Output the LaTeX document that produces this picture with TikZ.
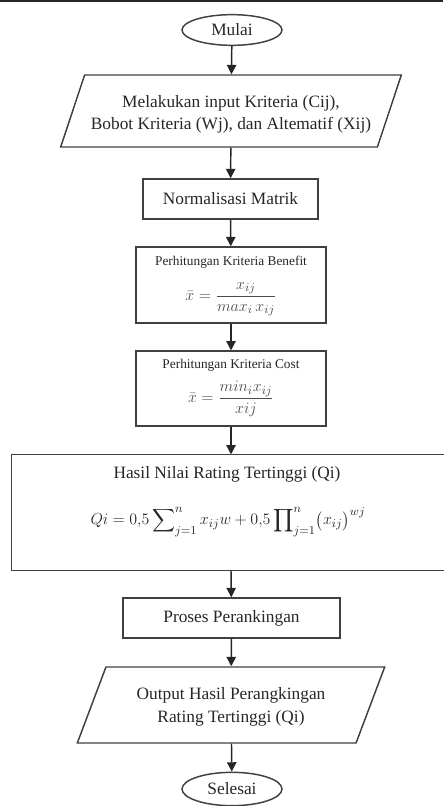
\documentclass[tikz,border=0pt]{standalone}
\usepackage{amsmath}
\usepackage{fontspec}
\setmainfont{Liberation Serif}
\usetikzlibrary{shapes.geometric,arrows.meta}

\begin{document}
\begin{tikzpicture}[x=0.75pt, y=-0.75pt,
    every node/.style={font=\fontsize{13}{17}\selectfont, text=black!85},
    terminal/.style={draw=black!75, line width=1.1pt, ellipse, minimum width=75pt, minimum height=23pt, inner sep=0pt},
    io/.style={draw=black!75, line width=1.1pt, trapezium, trapezium left angle=63, trapezium right angle=117, trapezium stretches=true, align=center, inner sep=0pt},
    process/.style={draw=black!75, line width=1.1pt, rectangle, align=center, inner sep=0pt},
    label/.style={inner sep=0pt},
    flow/.style={draw=black!85, line width=1.1pt, -{Triangle[length=7pt,width=7pt]}}]
    \useasboundingbox (0,0) rectangle (443,806);
    \draw[line width=1.5pt, black!85] (0,1) -- (443,1);

    \node[terminal] (mulai) at (232,30) {Mulai};
    \node[io, minimum width=256.5pt, minimum height=54pt] (input) at (231,111)
        {\rule{0pt}{14pt}Melakukan input Kriteria (Cij),\\ Bobot Kriteria (Wj), dan Altematif (Xij)};
    \node[process, minimum width=131pt, minimum height=30pt] (norm) at (230.5,199) {Normalisasi Matrik};
    \node[process, minimum width=142.5pt, minimum height=57pt] (benefit) at (231,285) {};
    \node[label, font=\fontsize{10}{12}\selectfont] (benefitt) at (231,262) {Perhitungan Kriteria Benefit};
    \node[label, text=black!70] (benefitf) at (231,299) {$\bar{x} = \dfrac{x_{ij}}{max_i\, x_{ij}}$};
    \node[process, minimum width=142.5pt, minimum height=56pt] (cost) at (231,388.5) {};
    \node[label, font=\fontsize{10}{12}\selectfont] (costt) at (231,365) {Perhitungan Kriteria Cost};
    \node[label, text=black!70] (costf) at (231,399) {$\bar{x} = \dfrac{min_i x_{ij}}{xij}$};
    % box runs out past the right edge of the page
    \node[process, draw=none, minimum width=360pt, minimum height=86pt] (hasil) at (252,512.5) {};
    \draw[draw=black!75, line width=1.1pt] (hasil.north east) -- (hasil.north west) -- (hasil.south west) -- (hasil.south east);
    \node[label] (hasilt) at (227,474) {Hasil Nilai Rating Tertinggi (Qi)};
    \node[label] (hasilf) at (228,522)
        {$\displaystyle Qi = 0{,}5\sum\nolimits_{j=1}^{n} x_{ij}w + 0{,}5\prod\nolimits_{j=1}^{n} \bigl(x_{ij}\bigr)^{wj}$};
    \node[process, minimum width=163pt, minimum height=30pt] (proses) at (231.5,618) {Proses Perankingan};
    \node[io, minimum width=231pt, minimum height=57pt] (output) at (231,705)
        {\rule{0pt}{12pt}Output Hasil Perangkingan\\ Rating Tertinggi (Qi)};
    \node[terminal, minimum height=25pt] (selesai) at (232,789) {Selesai};

    \draw[flow] (mulai) -- (input);
    \draw[flow] (input) -- (norm);
    \draw[flow] (norm) -- (benefit);
    \draw[flow] (benefit) -- (cost);
    \draw[flow] (cost) -- (cost |- hasil.north);
    \draw[flow] (cost |- hasil.south) -- (proses);
    \draw[flow] (proses) -- (output);
    \draw[flow] (output) -- (selesai);
\end{tikzpicture}
\end{document}
